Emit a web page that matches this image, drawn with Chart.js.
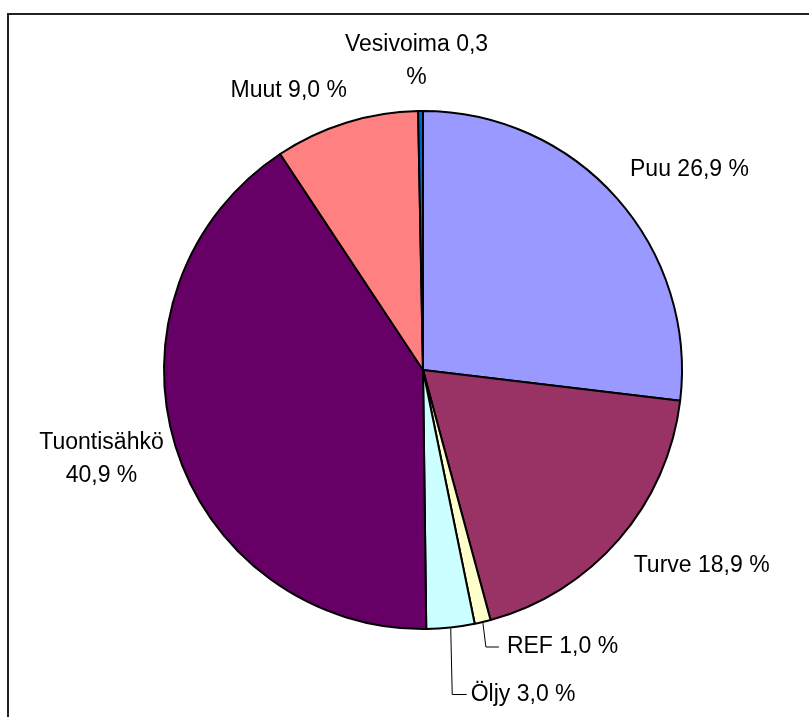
<!DOCTYPE html>
<html>
<head>
<meta charset="utf-8">
<script src="https://cdn.jsdelivr.net/npm/chart.js@4.4.1/dist/chart.umd.min.js"></script>
<style>
  html, body { margin: 0; padding: 0; background: #fff; overflow: hidden; }
  #wrap { position: relative; width: 809px; height: 717px; }
  #frame { position: absolute; left: 7px; top: 13px; width: 900px; height: 800px;
           border-left: 2px solid #222; border-top: 2px solid #222; box-sizing: border-box; }
  canvas { position: absolute; left: 0; top: 0; }
</style>
</head>
<body>
<div id="wrap">
  <div id="frame"></div>
  <canvas id="c" width="809" height="717"></canvas>
</div>
<script>
// ---- data ----
const categories = ['Puu', 'Turve', 'REF', 'Öljy', 'Tuontisähkö', 'Muut', 'Vesivoima'];
const shares = [26.9, 18.9, 1.0, 3.0, 40.9, 9.0, 0.3];

// ---- styles ----
const sliceColors = ['#9999FF', '#993366', '#FFFFCC', '#CCFFFF', '#660066', '#FF8080', '#0066CC'];
// label placement relative to the outer midpoint of each slice
const labelPlacement = [
  { type: 'text', dx: 72, dy: -28, lines: 'one' },
  { type: 'text', dx: 82, dy: 26, lines: 'one' },
  { type: 'leader', bend: [3, 24], end: [16, 24], text: [24, 24], lines: 'one' },
  { type: 'leader', bend: [1.5, 66], end: [16, 66], text: [20, 66], lines: 'one' },
  { type: 'text', dx: -73, dy: 13, lines: 'afterName' },
  { type: 'text', dx: -57, dy: -31, lines: 'one' },
  { type: 'text', dx: -4, dy: -49, lines: 'beforePercent' }
];
const FONT = '23px "Liberation Sans", Arial, sans-serif';
const LINE_H = 33;

function labelLines(i) {
  const name = categories[i];
  const val = shares[i].toFixed(1).replace('.', ',');
  const mode = labelPlacement[i].lines;
  if (mode === 'afterName') return [name, val + ' %'];
  if (mode === 'beforePercent') return [name + ' ' + val, '%'];
  return [name + ' ' + val + ' %'];
}

const pieLabels = {
  id: 'pieLabels',
  afterDatasetsDraw(chart) {
    const ctx = chart.ctx;
    const meta = chart.getDatasetMeta(0);
    ctx.save();
    ctx.font = FONT;
    ctx.fillStyle = '#000';
    meta.data.forEach((arc, i) => {
      const p = arc.getProps(['x', 'y', 'startAngle', 'endAngle', 'outerRadius'], true);
      const mid = (p.startAngle + p.endAngle) / 2;
      const R = p.outerRadius + 1;
      const ex = p.x + R * Math.cos(mid);
      const ey = p.y + R * Math.sin(mid);
      const pl = labelPlacement[i];
      const lines = labelLines(i);
      if (pl.type === 'text') {
        const cx = ex + pl.dx, cy = ey + pl.dy;
        ctx.textAlign = 'center';
        ctx.textBaseline = 'middle';
        const y0 = cy - (lines.length - 1) * LINE_H / 2;
        lines.forEach((t, k) => ctx.fillText(t, cx, y0 + k * LINE_H));
      } else {
        ctx.strokeStyle = '#000';
        ctx.lineWidth = 1;
        ctx.beginPath();
        ctx.moveTo(ex, ey);
        ctx.lineTo(ex + pl.bend[0], ey + pl.bend[1]);
        ctx.lineTo(ex + pl.end[0], ey + pl.end[1]);
        ctx.stroke();
        ctx.textAlign = 'left';
        ctx.textBaseline = 'middle';
        ctx.fillText(lines[0], ex + pl.text[0], ey + pl.text[1]);
      }
    });
    ctx.restore();
  }
};

new Chart(document.getElementById('c'), {
  type: 'pie',
  data: {
    labels: categories,
    datasets: [{
      data: shares,
      backgroundColor: sliceColors,
      borderColor: '#000',
      borderWidth: 2,
      hoverOffset: 0
    }]
  },
  options: {
    responsive: false,
    animation: false,
    radius: 259,
    rotation: 0,
    layout: { padding: { left: 37, top: 23, right: 0, bottom: 0 } },
    plugins: {
      legend: { display: false },
      tooltip: { enabled: false },
      title: { display: false }
    }
  },
  plugins: [pieLabels]
});
</script>
</body>
</html>
